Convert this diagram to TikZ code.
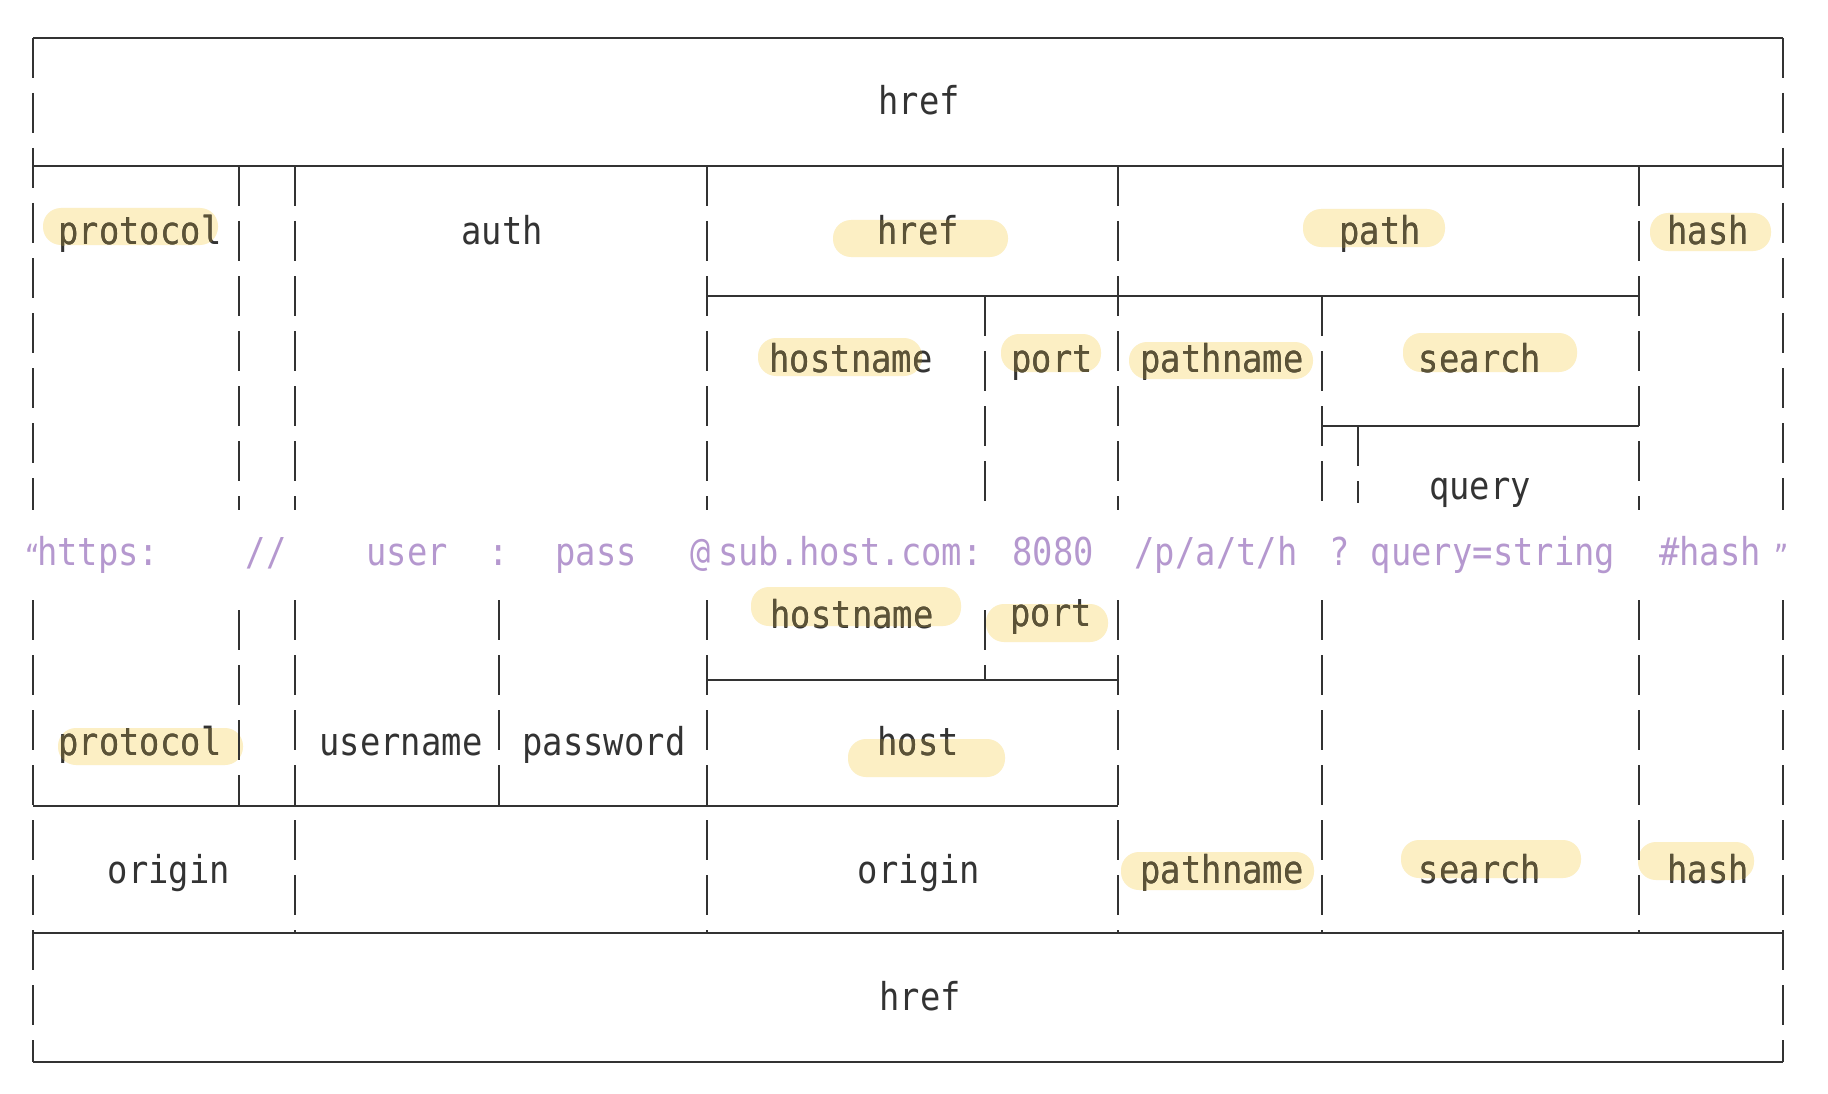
\documentclass[tikz,border=0pt]{standalone}
\usepackage{fontspec}
\newfontfamily\labelfont{DejaVu Sans Mono}[FakeStretch=0.88]
\definecolor{ink}{HTML}{333333}
\definecolor{hlfill}{HTML}{FCEFC4}
\definecolor{hlink}{HTML}{5C5336}
\definecolor{urlink}{HTML}{B598CF}
\pgfdeclarelayer{bg}
\pgfsetlayers{bg,main}
\tikzset{
  lbl/.style={font=\labelfont\fontsize{38.4}{46}\selectfont, text=ink, inner sep=0pt, anchor=base},
  urltext/.style={lbl, text=urlink},
  quotemark/.style={urltext, font=\labelfont\fontsize{28}{34}\selectfont},
  solidline/.style={draw=ink, line width=2.4pt},
  dashline/.style={draw=ink, line width=2pt, dash pattern=on 40pt off 15pt},
  hlbox/.style={fill=hlfill, rounded corners=18pt},
}
% name, x, baseline, text, x1, y1, x2, y2
\newcommand\hlabel[8]{%
  \begin{pgfonlayer}{bg}\fill[hlbox] (#5,#6) rectangle (#7,#8);\end{pgfonlayer}
  \node[lbl] (#1) at (#2,#3) {#4};
  \begin{scope}
    \clip[rounded corners=18pt] (#5,#6) rectangle (#7,#8);
    \node[lbl, text=hlink] (#1-hl) at (#2,#3) {#4};
  \end{scope}}
\begin{document}
\begin{tikzpicture}[x=1pt,y=-1pt]
\begin{pgfonlayer}{bg}
\fill[white] (0,0) rectangle (1828,1094);
\end{pgfonlayer}
\useasboundingbox (0,0) rectangle (1828,1094);

% horizontal solid lines
\draw[solidline] (33,38) -- (1783,38);
\draw[solidline] (33,166) -- (1783,166);
\draw[solidline] (707,296) -- (1639,296);
\draw[solidline] (1322,426) -- (1639,426);
\draw[solidline] (707,680) -- (1118,680);
\draw[solidline] (33,806) -- (1118,806);
\draw[solidline] (33,933) -- (1783,933);
\draw[solidline] (33,1062) -- (1783,1062);

% vertical dashed lines
\draw[dashline] (33,38) -- (33,510);
\draw[dashline] (33,600) -- (33,1062);
\draw[dashline] (1783,38) -- (1783,510);
\draw[dashline] (1783,600) -- (1783,1062);
\draw[dashline] (239,166) -- (239,510);
\draw[dashline] (239,610) -- (239,806);
\draw[dashline] (295,166) -- (295,510);
\draw[dashline] (295,600) -- (295,933);
\draw[dashline] (499,600) -- (499,806);
\draw[dashline] (707,166) -- (707,510);
\draw[dashline] (707,600) -- (707,933);
\draw[dashline] (985,296) -- (985,510);
\draw[dashline] (985,610) -- (985,680);
\draw[dashline] (1118,166) -- (1118,510);
\draw[dashline] (1118,600) -- (1118,933);
\draw[dashline] (1322,296) -- (1322,510);
\draw[dashline] (1322,600) -- (1322,933);
\draw[dashline] (1358,426) -- (1358,503);
\draw[dashline] (1639,166) -- (1639,510);
\draw[dashline] (1639,600) -- (1639,933);

% row 1
\node[lbl] (hrefTop) at (919,115) {href};
% row 2
\hlabel{protoTop}{140}{244}{protocol}{43}{208}{218}{245}
\node[lbl] (auth) at (502,244) {auth};
\hlabel{hrefMid}{918}{244}{href}{833}{220}{1008}{257}
\hlabel{path}{1380}{244}{path}{1303}{209}{1445}{247}
\hlabel{hashTop}{1708}{244}{hash}{1650}{213}{1771}{251}
% row 3
\hlabel{hostnameTop}{851}{372}{hostname}{758}{338}{922}{376}
\hlabel{portTop}{1052}{372}{port}{1001}{334}{1101}{372}
\hlabel{pathnameTop}{1222}{372}{pathname}{1129}{342}{1313}{379}
\hlabel{searchTop}{1480}{372}{search}{1403}{333}{1577}{372}
\node[lbl] (query) at (1480,499) {query};

% URL line
\node[quotemark, anchor=base east] (u0) at (40,565) {“};
\node[urltext, anchor=base west] (u1) at (37,565) {https:};
\node[urltext] (u2) at (266,565) {//};
\node[urltext] (u3) at (407,565) {user};
\node[urltext] (u4) at (499,565) {:};
\node[urltext] (u5) at (596,565) {pass};
\node[urltext] (u6) at (701,565) {@};
\node[urltext, anchor=base west] (u7) at (718,565) {sub.host.com:};
\node[urltext] (u8) at (1053,565) {8080};
\node[urltext] (u9) at (1216,565) {/p/a/t/h};
\node[urltext] (u10) at (1340,565) {?};
\node[urltext] (u11) at (1493,565) {query=string};
\node[urltext] (u12) at (1710,565) {\#hash};
\node[quotemark] (u13) at (1781,565) {”};

% lower rows
\hlabel{hostnameBot}{852}{628}{hostname}{751}{587}{961}{626}
\hlabel{portBot}{1051}{626}{port}{986}{604}{1108}{642}
\hlabel{protoBot}{140}{755}{protocol}{58}{728}{243}{765}
\node[lbl] (username) at (401,755) {username};
\node[lbl] (password) at (604,755) {password};
\hlabel{host}{918}{755}{host}{848}{739}{1005}{777}
\node[lbl] (originA) at (169,883) {origin};
\node[lbl] (originB) at (919,883) {origin};
\hlabel{pathnameBot}{1222}{883}{pathname}{1121}{852}{1314}{890}
\hlabel{searchBot}{1480}{883}{search}{1401}{840}{1581}{878}
\hlabel{hashBot}{1708}{883}{hash}{1638}{842}{1754}{880}
\node[lbl] (hrefBot) at (920,1010) {href};
\end{tikzpicture}
\end{document}
